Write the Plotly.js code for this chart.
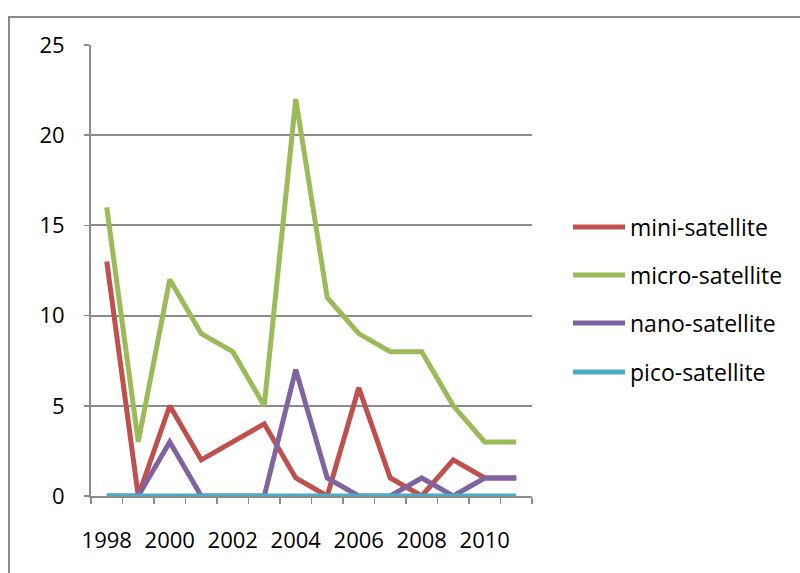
<!DOCTYPE html>
<html>
<head>
<meta charset="utf-8">
<script src="https://cdn.plot.ly/plotly-3.0.1.min.js"></script>
<style>
body{margin:0;padding:0;background:#fff;}
#wrap{position:relative;width:800px;height:573px;overflow:hidden;}
#chart{position:absolute;left:0;top:0;width:800px;height:573px;}
#frame{position:absolute;left:8px;top:16px;width:900px;height:700px;border:2px solid #8a8a8a;pointer-events:none;}
</style>
</head>
<body>
<div id="wrap"><div id="chart"></div><div id="frame"></div></div>
<script>
const years = [1998,1999,2000,2001,2002,2003,2004,2005,2006,2007,2008,2009,2010,2011];
const miniSat  = [13,0,5,2,3,4,1,0,6,1,0,2,1,1];
const microSat = [16,3,12,9,8,5,22,11,9,8,8,5,3,3];
const nanoSat  = [0,0,3,0,0,0,7,1,0,0,1,0,1,1];
const picoSat  = [0,0,0,0,0,0,0,0,0,0,0,0,0,0];
const seriesNames = ['mini-satellite','micro-satellite','nano-satellite','pico-satellite'];
const tickYears = [1998,2000,2002,2004,2006,2008,2010];
const yTicks = [0,5,10,15,20,25];

const colors = ['#C0504D','#9BBB59','#8064A2','#4BACC6'];
const FONT = '"Open Sans", Lato, sans-serif';
const data = [miniSat, microSat, nanoSat, picoSat].map((ys,i)=>({
  x: years, y: ys, name: seriesNames[i], type:'scatter', mode:'lines',
  line:{color:colors[i], width:5}, cliponaxis:false, showlegend:false
}));

// custom legend (Excel style long line samples)
const plotL = 91, plotR = 532, plotT = 45, plotB = 496;
const legendPY = [227, 275, 323, 372];
const px2x = p => (p - plotL) / (plotR - plotL);
const px2y = p => (plotB - p) / (plotB - plotT);
const shapes = seriesNames.map((n,i)=>({
  type:'line', xref:'paper', yref:'paper',
  x0:px2x(573), x1:px2x(625), y0:px2y(legendPY[i]), y1:px2y(legendPY[i]),
  line:{color:colors[i], width:5}
}));
const annotations = seriesNames.map((n,i)=>({
  text:n, xref:'paper', yref:'paper', x:px2x(628), y:px2y(legendPY[i]),
  xanchor:'left', yanchor:'middle', showarrow:false,
  font:{family:FONT, size:23, color:'#000'}
}));

const layout = {
  width:800, height:573,
  margin:{l:plotL, r:800-plotR, t:plotT, b:573-plotB},
  paper_bgcolor:'rgba(0,0,0,0)', plot_bgcolor:'#fff',
  font:{family:FONT, size:22, color:'#000'},
  showlegend:false,
  shapes: shapes, annotations: annotations,
  xaxis:{range:[1997.5,2011.5], tickvals:tickYears, ticktext:tickYears.map(String),
         ticks:'', showgrid:false, zeroline:false, showline:true, linecolor:'#8c8c8c', linewidth:2,
         minor:{tick0:1997.5, dtick:1, ticks:'outside', ticklen:6, tickcolor:'#8c8c8c', tickwidth:1.5, showgrid:false},
         tickfont:{size:22}, ticklabelstandoff:24, fixedrange:true},
  yaxis:{range:[0,25], tickvals:yTicks, ticks:'outside', ticklen:5, tickcolor:'#8c8c8c', tickwidth:1.5,
         showgrid:true, gridcolor:'#8c8c8c', gridwidth:2, zeroline:false, showline:true,
         linecolor:'#8c8c8c', linewidth:2, tickfont:{size:22}, ticklabelstandoff:15, fixedrange:true}
};
Plotly.newPlot('chart', data, layout, {displayModeBar:false, staticPlot:true});
</script>
</body>
</html>
